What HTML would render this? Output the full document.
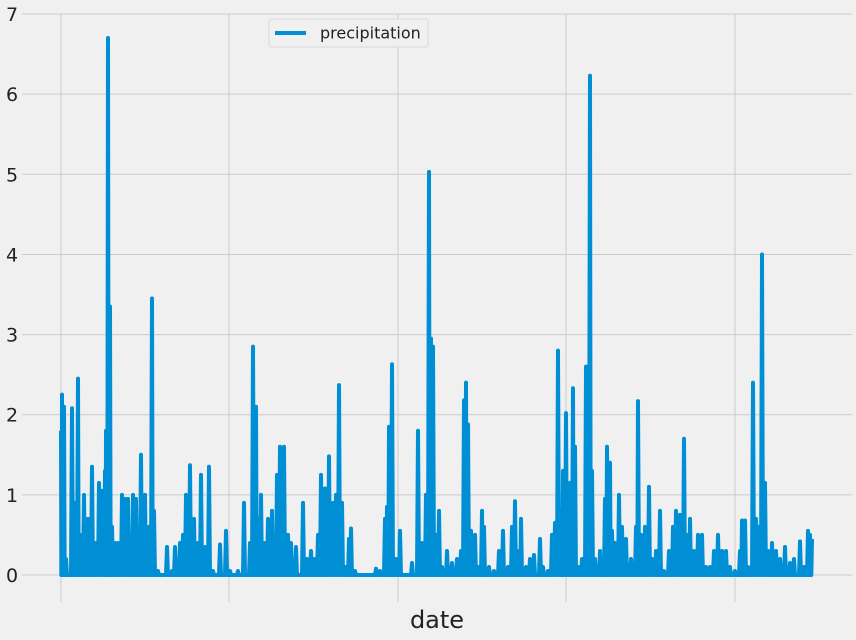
<!DOCTYPE html>
<html><head><meta charset="utf-8"><style>
body{margin:0;background:#f0f0f0;}
svg{display:block;font-family:"DejaVu Sans","Liberation Sans",sans-serif;}
</style></head><body>
<svg id="c" width="856" height="640">
<rect width="856" height="640" fill="#f0f0f0"/>
<g id="grid"></g>
<g id="yt"></g>
<path id="line" fill="none" stroke="#008fd5" stroke-width="4" stroke-linejoin="round"/>
<text x="437" y="628" font-size="24" text-anchor="middle" fill="#222">date</text>
<g>
<rect x="269" y="19" width="159" height="28" rx="3" fill="#f0f0f0" stroke="#d8d8d8"/>
<line x1="275" y1="33" x2="306" y2="33" stroke="#008fd5" stroke-width="4"/>
<text x="320" y="38.5" font-size="16" fill="#222">precipitation</text>
</g>
</svg>
<script>
const obsIndex=[0,1,3,5,11,14,17,19,23,27,31,35,38,41,44,45,47,49,51,54,57,61,64,67,72,75,80,84,88,91,93,97,106,111,114,119,122,125,129,133,137,140,144,148,152,159,165,169,177,183,189,192,195,197,200,203,207,211,216,219,223,227,230,235,242,246,250,253,257,260,264,268,272,275,278,281,285,288,290,294,315,319,324,326,328,331,335,339,344,351,357,361,365,368,370,372,375,378,381,386,391,396,400,403,405,407,410,414,418,421,423,428,433,438,442,447,451,454,458,460,465,469,473,479,482,487,491,494,497,500,502,505,509,512,514,517,521,525,529,531,534,539,544,546,549,551,554,558,561,565,570,575,577,580,584,588,591,595,599,603,608,612,615,619,623,627,629,633,637,641,645,649,653,657,661,665,669,674,679,681,684,687,692,695,698,701,704,707,711,715,719,724,729,733,739,743,747,749,751];
const precip=[1.8,2.25,2.1,0.2,2.08,0.9,2.45,0.5,1.0,0.7,1.35,0.4,1.15,1.05,1.3,1.8,6.7,3.35,0.6,0.4,0.4,1.0,0.95,0.95,1.0,0.95,1.5,1.0,0.6,3.45,0.8,0.05,0.35,0.05,0.35,0.4,0.5,1.0,1.37,0.7,0.4,1.25,0.35,1.35,0.05,0.38,0.55,0.05,0.05,0.9,0.4,2.85,2.1,0.7,1.0,0.4,0.7,0.8,1.25,1.6,1.6,0.5,0.4,0.35,0.9,0.2,0.3,0.2,0.5,1.25,1.08,1.48,0.9,1.0,2.37,0.9,0.1,0.45,0.58,0.05,0.08,0.05,0.7,0.85,1.85,2.63,0.2,0.55,0,0.15,1.8,0.4,1.0,5.03,2.95,2.85,0.5,0.8,0.1,0.3,0.15,0.2,0.3,2.18,2.4,1.88,0.55,0.5,0.1,0.8,0.6,0.1,0.05,0.3,0.55,0.1,0.6,0.92,0.3,0.7,0.1,0.2,0.25,0.45,0.1,0.05,0.5,0.65,2.8,0.8,1.3,2.02,1.15,2.33,1.6,0.1,0.2,2.6,6.23,1.3,0.2,0.3,0.95,1.6,1.4,0.55,0.4,1.0,0.6,0.45,0.2,0.6,2.17,0.5,0.6,1.1,0.2,0.3,0.8,0.05,0.3,0.6,0.8,0.75,1.7,0.5,0.7,0.3,0.5,0.5,0.1,0.1,0.3,0.5,0.3,0.3,0.1,0.05,0.3,0.68,0.68,0.1,2.4,0.7,0.6,4.0,1.15,0.3,0.4,0.3,0.2,0.35,0.15,0.2,0.42,0.1,0.55,0.5,0.45];
const yTicks=[0,1,2,3,4,5,6,7];
const xGridIdx=[0,168,337,505,674];
const NS="http://www.w3.org/2000/svg";
const X=i=>61+i*(751/751);
const Y=v=>575-v*80.14;
const grid=document.getElementById('grid'),yt=document.getElementById('yt');
yTicks.forEach(t=>{
 const l=document.createElementNS(NS,'line');
 l.setAttribute('x1',22);l.setAttribute('x2',852);l.setAttribute('y1',Y(t));l.setAttribute('y2',Y(t));
 l.setAttribute('stroke','#cbcbcb');l.setAttribute('stroke-width','1');
 
 
 grid.appendChild(l);
 const tx=document.createElementNS(NS,'text');
 tx.setAttribute('x',12);tx.setAttribute('y',Y(t)+7);tx.setAttribute('font-size','19');
 tx.setAttribute('text-anchor','middle');tx.setAttribute('fill','#222');
 tx.textContent=t;
 
 
 yt.appendChild(tx);
});
xGridIdx.forEach(i=>{
 const l=document.createElementNS(NS,'line');
 l.setAttribute('x1',X(i));l.setAttribute('x2',X(i));l.setAttribute('y1',14);l.setAttribute('y2',602);
 l.setAttribute('stroke','#cbcbcb');l.setAttribute('stroke-width','1');
 
 
 grid.appendChild(l);
});
let d='';
for(let k=0;k<obsIndex.length;k++){
 const x=X(obsIndex[k]);
 d+=(k?'L':'M')+x+','+Y(precip[k]);
 if(k<obsIndex.length-1){
  const nx=X(obsIndex[k+1]);
  d+='L'+(x+Math.min(1,(nx-x)/3))+','+Y(0)+'L'+(nx-Math.min(1,(nx-x)/3))+','+Y(0);
 }
}
document.getElementById('line').setAttribute('d',d);
</script>
</body></html>
